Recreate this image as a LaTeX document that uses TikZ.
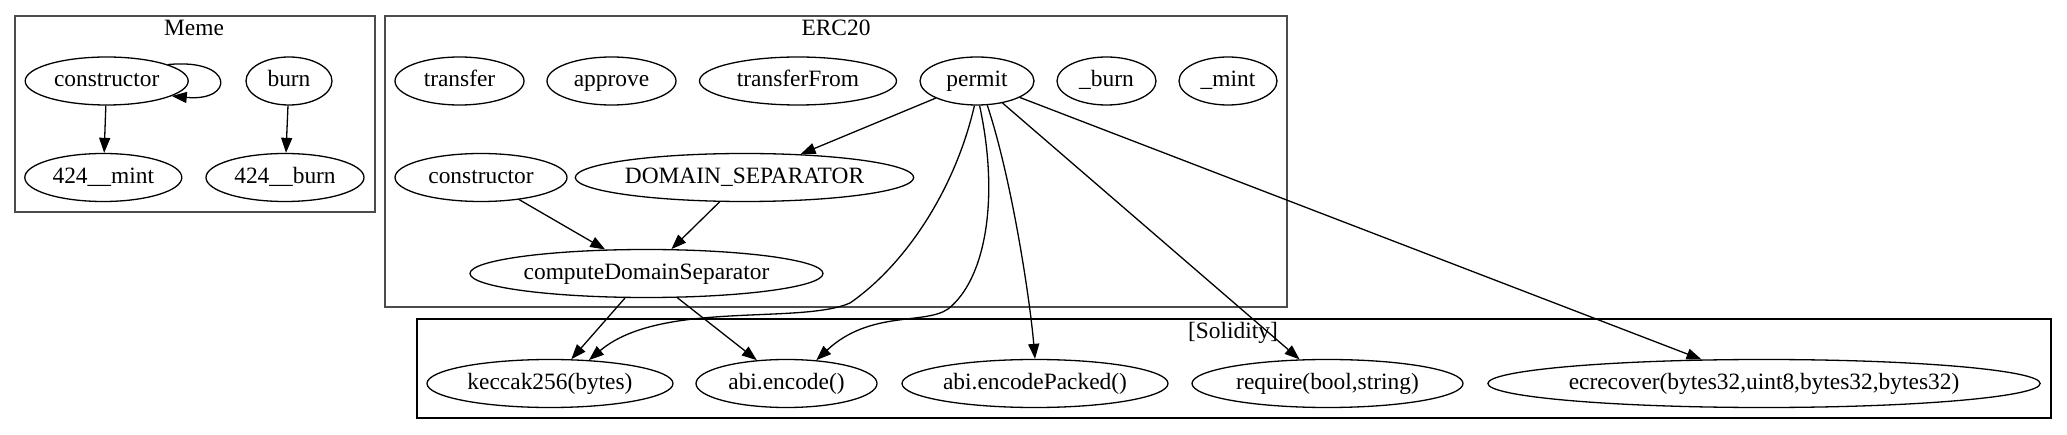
\documentclass[tikz,border=0pt]{standalone}
\usepackage{fontspec}
\setmainfont{Liberation Serif}
\usetikzlibrary{shapes.geometric,arrows.meta}
\begin{document}
\begin{tikzpicture}[x=1pt,y=-1pt,
  txt/.style={font=\fontsize{23.4}{28}\selectfont,text height=17pt,text depth=5pt,inner sep=0pt},
  fn/.style={txt,ellipse,draw,line width=1.3pt,minimum height=48pt},
  clbox/.style={draw=black!70,line width=2pt},
  sbox/.style={draw=black,line width=1.6pt},
  edge/.style={line width=1.3pt,-{Triangle[length=15pt,width=11pt]}}]
\useasboundingbox[fill=white] (0,0) rectangle (2067,435);

% clusters
\draw[clbox] (15,16) rectangle (375,212);
\draw[clbox] (385,16) rectangle (1287,307);
\draw[sbox] (417,319) rectangle (2051,418);
\node[txt] (lmeme) at (194,30) {Meme};
\node[txt] (lerc) at (836,30) {ERC20};
\node[txt] (lsol) at (1233,333) {[Solidity]};

% Meme
\node[fn,minimum width=163pt] (mc) at (106.7,81) {constructor};
\node[fn,minimum width=86pt] (mb) at (289,81) {burn};
\node[fn,minimum width=157pt] (mm) at (103.3,177.5) {424\_\_mint};
\node[fn,minimum width=158pt] (mbb) at (285,177.5) {424\_\_burn};

% ERC20
\node[fn,minimum width=129pt] (tr) at (459.5,81) {transfer};
\node[fn,minimum width=129pt] (ap) at (611.5,81) {approve};
\node[fn,minimum width=197pt] (tf) at (798,81) {transferFrom};
\node[fn,minimum width=114pt] (P) at (977,81) {permit};
\node[fn,minimum width=99pt] (eb) at (1106.5,81) {\_burn};
\node[fn,minimum width=98pt] (em) at (1228,81) {\_mint};
\node[fn,minimum width=172pt] (ec) at (481,177.5) {constructor};
\node[fn,minimum width=305pt] (ds) at (744.5,177.5) {DOMAIN\_SEPARATOR};
\node[fn,minimum width=353pt] (cds) at (646.5,273.5) {computeDomainSeparator};

% Solidity
\node[fn,minimum width=246pt] (k) at (550,383.5) {keccak256(bytes)};
\node[fn,minimum width=181pt] (ae) at (786.5,383.5) {abi.encode()};
\node[fn,minimum width=266pt] (ep) at (1035,383.5) {abi.encodePacked()};
\node[fn,minimum width=271pt] (rq) at (1327.5,383.5) {require(bool,string)};
\node[fn,minimum width=552pt] (er) at (1764,383.5) {ecrecover(bytes32,uint8,bytes32,bytes32)};

% edges
\draw[edge] (mc) -- (mm);
\draw[edge] (mc.15) .. controls (235,58) and (235,102) .. (mc.-13);
\draw[edge] (mb) -- (mbb);
\draw[edge] (P) -- (ds);
\draw[edge] (ec) -- (cds);
\draw[edge] (ds) -- (cds);
\draw[edge] (cds) -- (k);
\draw[edge] (cds) -- (ae);
\draw[edge] (P.264) .. controls (955,190) and (905,265) .. (850,303)
                    .. controls (800,325) and (660,300) .. (k.31);
\draw[edge] (P.276) .. controls (1000,200) and (985,280) .. (948,309)
                    .. controls (925,325) and (870,310) .. (ae.38);
\draw[edge] (P.293) .. controls (1012,180) and (1030,300) .. (ep.north);
\draw[edge] (P) -- (rq);
\draw[edge] (P) -- (er);
\end{tikzpicture}
\end{document}
